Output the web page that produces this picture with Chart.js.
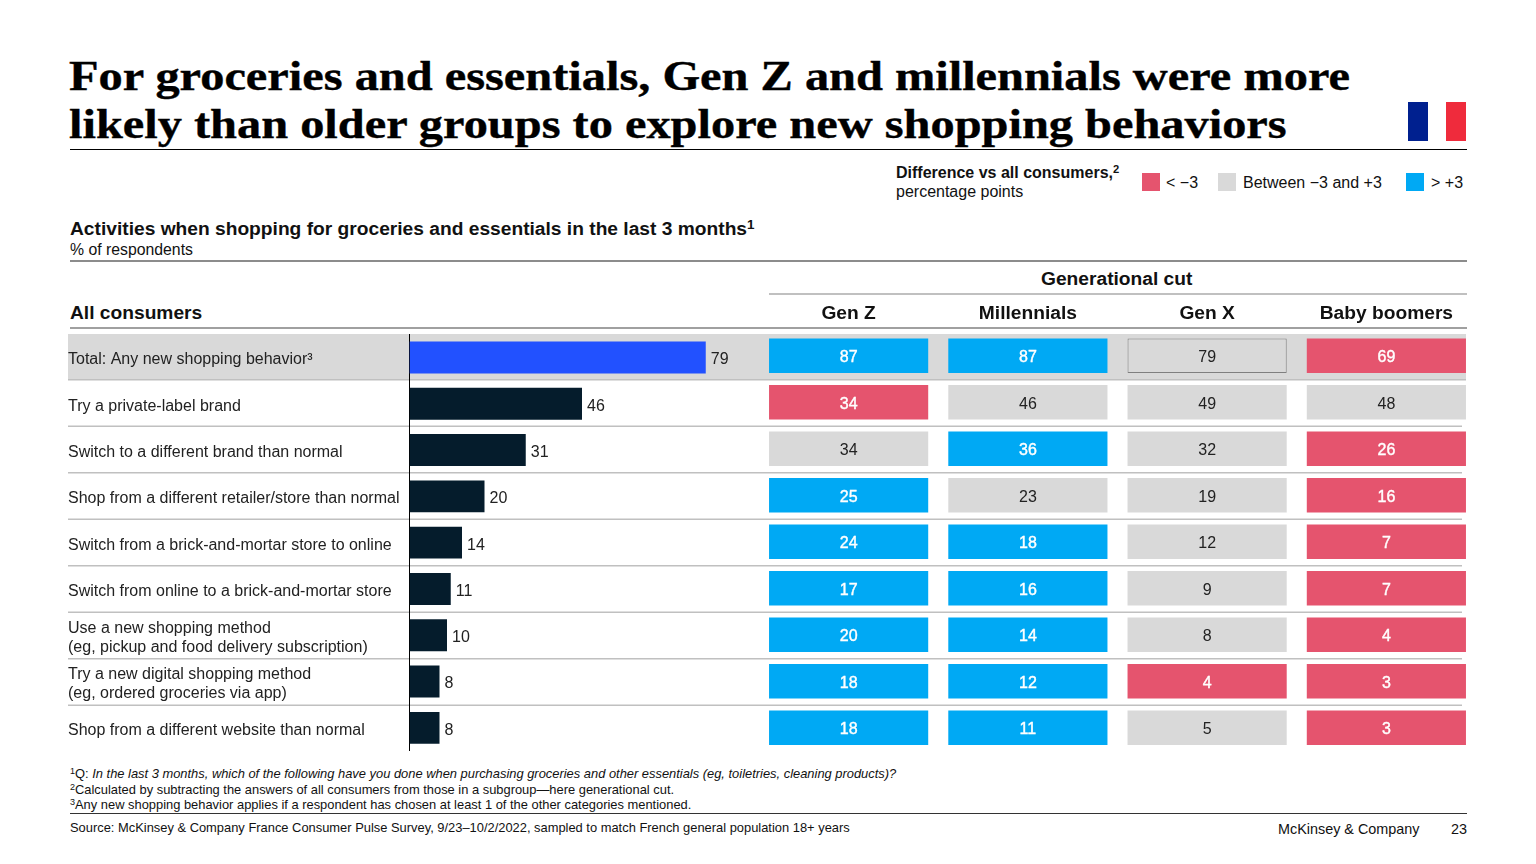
<!DOCTYPE html>
<html>
<head>
<meta charset="utf-8">
<title>Shopping behaviors by generation</title>
<script src="https://cdn.jsdelivr.net/npm/chart.js@4/dist/chart.umd.min.js"></script>
<style>
  html, body { margin: 0; padding: 0; background: #fff; }
  body { width: 1536px; height: 864px; overflow: hidden; position: relative;
         font-family: "Liberation Sans", Arial, sans-serif; color: #111; }
  .t { position: absolute; white-space: nowrap; line-height: 1; }
  .b { font-weight: bold; }
  .rule { position: absolute; }
  .sw { position: absolute; width: 18px; height: 18px; }
  sup { font-size: 70%; line-height: 0; vertical-align: baseline; position: relative; top: -0.45em; }
  canvas { position: absolute; display: block; }
  h1 { position: absolute; left: 69px; top: 52px; margin: 0; font: bold 43px/48px "Liberation Serif", serif;
       color: #000; white-space: nowrap; transform: scaleX(1.125); transform-origin: left top;
       -webkit-text-stroke: 0.4px #000; }
  .fn { font-size: 12.9px; }
</style>
</head>
<body>
<h1>For groceries and essentials, Gen Z and millennials were more<br>likely than older groups to explore new shopping behaviors</h1>

<div class="rule" style="left:1408px;top:102px;width:20px;height:39px;background:#00208f"></div>
<div class="rule" style="left:1446px;top:102px;width:20px;height:39px;background:#ef2b3c"></div>
<div class="rule" style="left:70px;top:149px;width:1397px;height:1px;background:#000"></div>

<div class="t b" style="left:896px;top:165px;font-size:16px">Difference vs all consumers,<sup>2</sup></div>
<div class="t" style="left:896px;top:184px;font-size:16px">percentage points</div>
<div class="sw" style="left:1142px;top:173px;background:#e5546e"></div>
<div class="t" style="left:1166px;top:175px;font-size:16px">&lt; −3</div>
<div class="sw" style="left:1218px;top:173px;background:#d9d9d9"></div>
<div class="t" style="left:1243px;top:175px;font-size:16px">Between −3 and +3</div>
<div class="sw" style="left:1406px;top:173px;background:#00a9f4"></div>
<div class="t" style="left:1431px;top:175px;font-size:16px">&gt; +3</div>

<div class="t b" style="left:70px;top:219px;font-size:19.2px">Activities when shopping for groceries and essentials in the last 3 months<sup>1</sup></div>
<div class="t" style="left:70px;top:242px;font-size:15.8px">% of respondents</div>
<div class="rule" style="left:70px;top:260px;width:1397px;height:2px;background:#8c8c8c"></div>

<div class="t b" style="left:1041px;top:269px;font-size:19.2px">Generational cut</div>
<div class="rule" style="left:769px;top:293px;width:698px;height:2px;background:#c0c0c0"></div>
<div class="t b" style="left:70px;top:303px;font-size:19.2px">All consumers</div>
<div class="rule" style="left:70px;top:327px;width:1397px;height:2px;background:#a0a0a0"></div>

<canvas id="chBars" width="699" height="453" style="left:60px;top:298px"></canvas>
<canvas id="chCells" width="717" height="453" style="left:759px;top:298px"></canvas>

<div class="t fn" style="left:70px;top:768px"><sup>1</sup>Q: <i>In the last 3 months, which of the following have you done when purchasing groceries and other essentials (eg, toiletries, cleaning products)?</i></div>
<div class="t fn" style="left:70px;top:784px"><sup>2</sup>Calculated by subtracting the answers of all consumers from those in a subgroup—here generational cut.</div>
<div class="t fn" style="left:70px;top:799px"><sup>3</sup>Any new shopping behavior applies if a respondent has chosen at least 1 of the other categories mentioned.</div>
<div class="rule" style="left:70px;top:813px;width:1397px;height:1px;background:#333"></div>
<div class="t fn" style="left:70px;top:822px">Source: McKinsey &amp; Company France Consumer Pulse Survey, 9/23–10/2/2022, sampled to match French general population 18+ years</div>
<div class="t" style="left:1278px;top:822px;font-size:14.4px">McKinsey &amp; Company</div>
<div class="t" style="left:1451px;top:822px;font-size:14.4px">23</div>

<script>
const behaviors = [
  "Total: Any new shopping behavior³",
  "Try a private-label brand",
  "Switch to a different brand than normal",
  "Shop from a different retailer/store than normal",
  "Switch from a brick-and-mortar store to online",
  "Switch from online to a brick-and-mortar store",
  ["Use a new shopping method", "(eg, pickup and food delivery subscription)"],
  ["Try a new digital shopping method", "(eg, ordered groceries via app)"],
  "Shop from a different website than normal"
];
const generations = ["Gen Z", "Millennials", "Gen X", "Baby boomers"];
const allConsumers = [79, 46, 31, 20, 14, 11, 10, 8, 8];
const genZ = [87, 34, 34, 25, 24, 17, 20, 18, 18];
const millennials = [87, 46, 36, 23, 18, 16, 14, 12, 11];
const genX = [79, 49, 32, 19, 12, 9, 8, 4, 5];
const boomers = [69, 48, 26, 16, 7, 7, 4, 3, 3];

// legend class of each cell as printed: H > +3, M between, L < -3
const genZBand = ["H", "L", "M", "H", "H", "H", "H", "H", "H"];
const millennialsBand = ["H", "M", "H", "M", "H", "H", "H", "H", "H"];
const genXBand = ["M", "M", "M", "M", "M", "M", "M", "L", "M"];
const boomersBand = ["L", "M", "L", "L", "L", "L", "L", "L", "L"];

const genSeries = [genZ, millennials, genX, boomers];
const genBands = [genZBand, millennialsBand, genXBand, boomersBand];
const FONT = '"Liberation Sans", Arial, sans-serif';
const GREY = "#d9d9d9";
const bandColors = { H: "#00a9f4", M: GREY, L: "#e5546e" };

// grey total band and row separators, both charts share the heatmap's rows
function drawRows(chart, rowScale, x0, x1, x1Total) {
  const ctx = chart.ctx;
  ctx.save();
  ctx.fillStyle = GREY;
  const top = rowScale.getPixelForValue(0) + 1.5;
  ctx.fillRect(x0, top, x1Total - x0, rowScale.getPixelForValue(1) - top);
  ctx.fillStyle = "#c0c0c0";
  for (let i = 1; i < behaviors.length; i++) {
    const y = rowScale.getPixelForValue(i);
    ctx.fillRect(x0, y, (i === 1 ? x1Total : x1) - x0, 1.5);
  }
  ctx.restore();
}

const cellLabels = {
  id: "cellLabels",
  afterDatasetsDraw(chart) {
    const ctx = chart.ctx;
    ctx.save();
    ctx.textAlign = "center";
    ctx.textBaseline = "middle";
    ctx.font = "16px " + FONT;
    chart.data.datasets.forEach((ds, r) => {
      chart.getDatasetMeta(r).data.forEach((el, g) => {
        const text = String(genSeries[g][r]);
        const y = el.getCenterPoint().y + 2;
        if (genBands[g][r] === "M") {
          ctx.fillStyle = "#222";
        } else {
          // white figures look a bit heavier in the reference
          ctx.fillStyle = "#fff";
          ctx.strokeStyle = "#fff";
          ctx.lineWidth = 0.4;
          ctx.strokeText(text, el.x, y);
        }
        ctx.fillText(text, el.x, y);
      });
    });
    ctx.restore();
  }
};

const cellsChart = new Chart(document.getElementById("chCells"), {
  type: "bar",
  data: {
    labels: generations,
    datasets: behaviors.map((b, r) => ({
      label: Array.isArray(b) ? b.join(" ") : b,
      data: generations.map(() => [r + 0.13, r + 0.87]),
      backgroundColor: genBands.map((s) => bandColors[s[r]]),
      borderColor: "#7f7f7f",
      // only the Gen X total gets an outline, it would vanish on the band otherwise
      borderWidth: generations.map((g, i) => (r === 0 && i === 2 ? 1 : 0)),
      borderSkipped: false
    }))
  },
  options: {
    responsive: false,
    animation: false,
    layout: { padding: 0, autoPadding: false },
    plugins: { legend: { display: false }, tooltip: { enabled: false } },
    datasets: { bar: { grouped: false, barPercentage: 0.888, categoryPercentage: 1 } },
    scales: {
      x: {
        position: "top",
        grid: { display: false, drawTicks: false },
        border: { display: false },
        ticks: { color: "#111", padding: 7, font: { family: FONT, size: 19.2, weight: "bold" } },
        afterFit: (scale) => { scale.height = 34.5; }
      },
      y: { display: false, reverse: true, min: 0, max: 9 }
    }
  },
  plugins: [
    {
      id: "rows",
      beforeDraw(chart) { drawRows(chart, chart.scales.y, 0, 703, 707); }
    },
    cellLabels
  ]
});

const barLabels = {
  id: "barLabels",
  afterDatasetsDraw(chart) {
    const ctx = chart.ctx;
    ctx.save();
    ctx.font = "16px " + FONT;
    ctx.fillStyle = "#222";
    ctx.textBaseline = "middle";
    chart.getDatasetMeta(0).data.forEach((el, i) => {
      ctx.fillText(String(allConsumers[i]), el.x + 5, el.y + 2.5);
    });
    ctx.restore();
  }
};

// row names sit a little below the bar centres in the reference
const nudgeRowNames = {
  id: "nudgeRowNames",
  afterUpdate(chart) {
    chart.scales.y.getLabelItems().forEach((item) => {
      item.options.translation[1] += 2.5;
    });
  }
};

const barsChart = new Chart(document.getElementById("chBars"), {
  type: "bar",
  data: {
    labels: behaviors,
    datasets: [{
      label: "All consumers",
      data: allConsumers,
      backgroundColor: allConsumers.map((v, i) => (i === 0 ? "#2251ff" : "#051c2c")),
      barPercentage: 0.69,
      categoryPercentage: 1
    }]
  },
  options: {
    responsive: false,
    animation: false,
    indexAxis: "y",
    layout: { padding: { left: 8, top: 36.3, right: 0, bottom: 0 }, autoPadding: false },
    plugins: { legend: { display: false }, tooltip: { enabled: false } },
    scales: {
      x: { display: false, min: 0, max: 93.2 },
      y: {
        grid: { display: false, drawTicks: false },
        border: { display: true, color: "#000", width: 1 },
        ticks: {
          autoSkip: false,
          crossAlign: "far",
          padding: 0,
          color: "#222",
          font: { family: FONT, size: 16, lineHeight: 1.19 }
        },
        // the scale keeps half a label of room below the last row otherwise
        afterFit: (scale) => {
          scale.width = 341.5;
          scale.paddingTop = 0;
          scale.paddingBottom = 0;
        }
      }
    }
  },
  plugins: [
    {
      id: "rows",
      beforeDraw(chart) { drawRows(chart, cellsChart.scales.y, 8, 699, 699); }
    },
    barLabels,
    nudgeRowNames
  ]
});
</script>
</body>
</html>
